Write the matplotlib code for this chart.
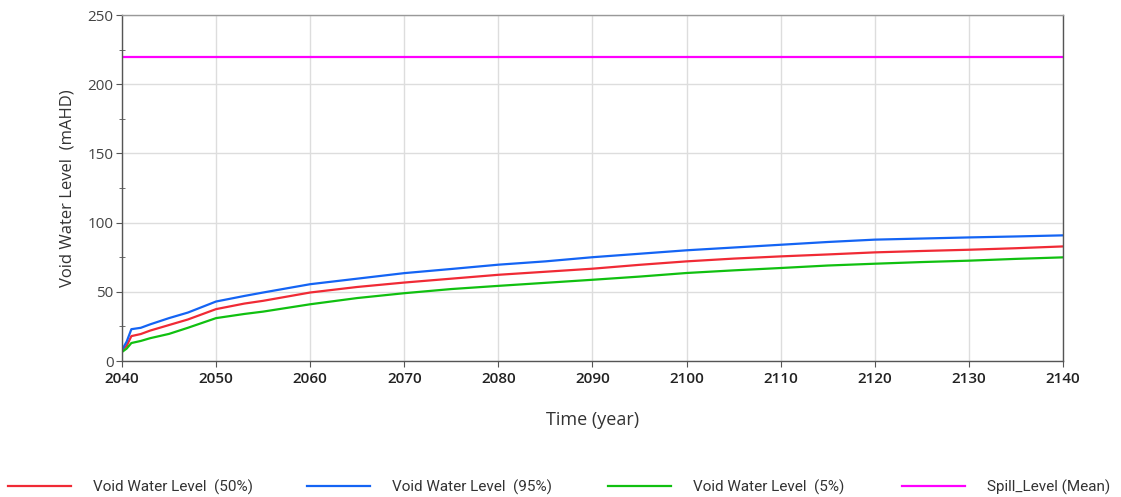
import matplotlib
matplotlib.use("Agg")
import matplotlib.pyplot as plt
from matplotlib.ticker import MultipleLocator

years = [2040, 2040.5, 2041, 2042, 2043, 2045, 2047, 2050, 2053, 2055, 2060, 2065, 2070,
         2075, 2080, 2085, 2090, 2095, 2100, 2105, 2110, 2115, 2120, 2125, 2130, 2135, 2140]
level_95 = [8, 14, 23, 24, 26.5, 31, 35, 43, 47, 49.5, 55.5, 59.5, 63.5,
            66.5, 69.6, 72, 75, 77.5, 80, 82, 84, 86, 87.7, 88.5, 89.3, 90, 90.8]
level_50 = [8, 11, 18, 19.5, 22, 26, 30, 37.5, 41.5, 43.5, 49.5, 53.5, 56.7,
            59.5, 62.3, 64.5, 66.7, 69.5, 72, 74, 75.6, 77, 78.5, 79.5, 80.4, 81.5, 82.8]
level_5 = [6.5, 9, 13, 14.5, 16.5, 19.6, 24, 31, 34, 35.7, 41, 45.5, 49,
           52, 54.3, 56.5, 58.7, 61, 63.6, 65.5, 67.2, 69, 70.3, 71.5, 72.5, 73.8, 74.9]
spill_years = [2040, 2140]
spill_level = [220, 220]

plt.rcParams['font.family'] = ['Open Sans', 'DejaVu Sans']

fig = plt.figure(figsize=(11.21, 4.97), dpi=100)
ax = fig.add_axes([0.1088, 0.2736, 0.8394, 0.6962])

lw = 1.6
l50, = ax.plot(years, level_50, color='#f02a35', lw=lw, label='Void Water Level  (50%)')
l95, = ax.plot(years, level_95, color='#1464f4', lw=lw, label='Void Water Level  (95%)')
l5, = ax.plot(years, level_5, color='#10c010', lw=lw, label='Void Water Level  (5%)')
ls, = ax.plot(spill_years, spill_level, color='#ff00ff', lw=lw, label='Spill_Level (Mean)')

ax.set_xlim(2040, 2140)
ax.set_ylim(0, 250)
ax.xaxis.set_major_locator(MultipleLocator(10))
ax.yaxis.set_major_locator(MultipleLocator(50))
ax.yaxis.set_minor_locator(MultipleLocator(25))
ax.grid(True, which='major', color='#dddddd', lw=1)
ax.set_axisbelow(True)

for s in ['left', 'bottom', 'right']:
    ax.spines[s].set_color('#555555')
ax.spines['top'].set_color('#999999')
for s in ax.spines.values():
    s.set_linewidth(1.0)

ax.tick_params(axis='both', which='major', length=4, color='#555555', labelsize=11,
               labelcolor='#444444', pad=2)
ax.tick_params(axis='y', which='minor', length=5, direction='inout', color='#555555')
ax.tick_params(axis='x', which='major', pad=4, labelcolor='#222222')
for lab in ax.get_xticklabels():
    lab.set_fontweight('semibold')

ax.set_xlabel('Time (year)', fontsize=13, color='#333333', labelpad=18)
ax.set_ylabel('Void Water Level  (mAHD)', fontsize=12, color='#333333', labelpad=9)

fs = 11
fs_px = fs * 100 / 72
positions = [8, 307, 608, 902]
for h, xp in zip([l50, l95, l5, ls], positions):
    leg = fig.legend(handles=[h], loc='center left',
                     bbox_to_anchor=(xp / 1121, 1 - 487 / 497),
                     frameon=False, handlelength=63 / fs_px, handletextpad=22 / fs_px,
                     borderaxespad=0, borderpad=0,
                     prop={'family': ['Roboto', 'DejaVu Sans'], 'size': fs})
    for t in leg.get_texts():
        t.set_color('#333333')

fig.savefig('out.png', dpi=100)
